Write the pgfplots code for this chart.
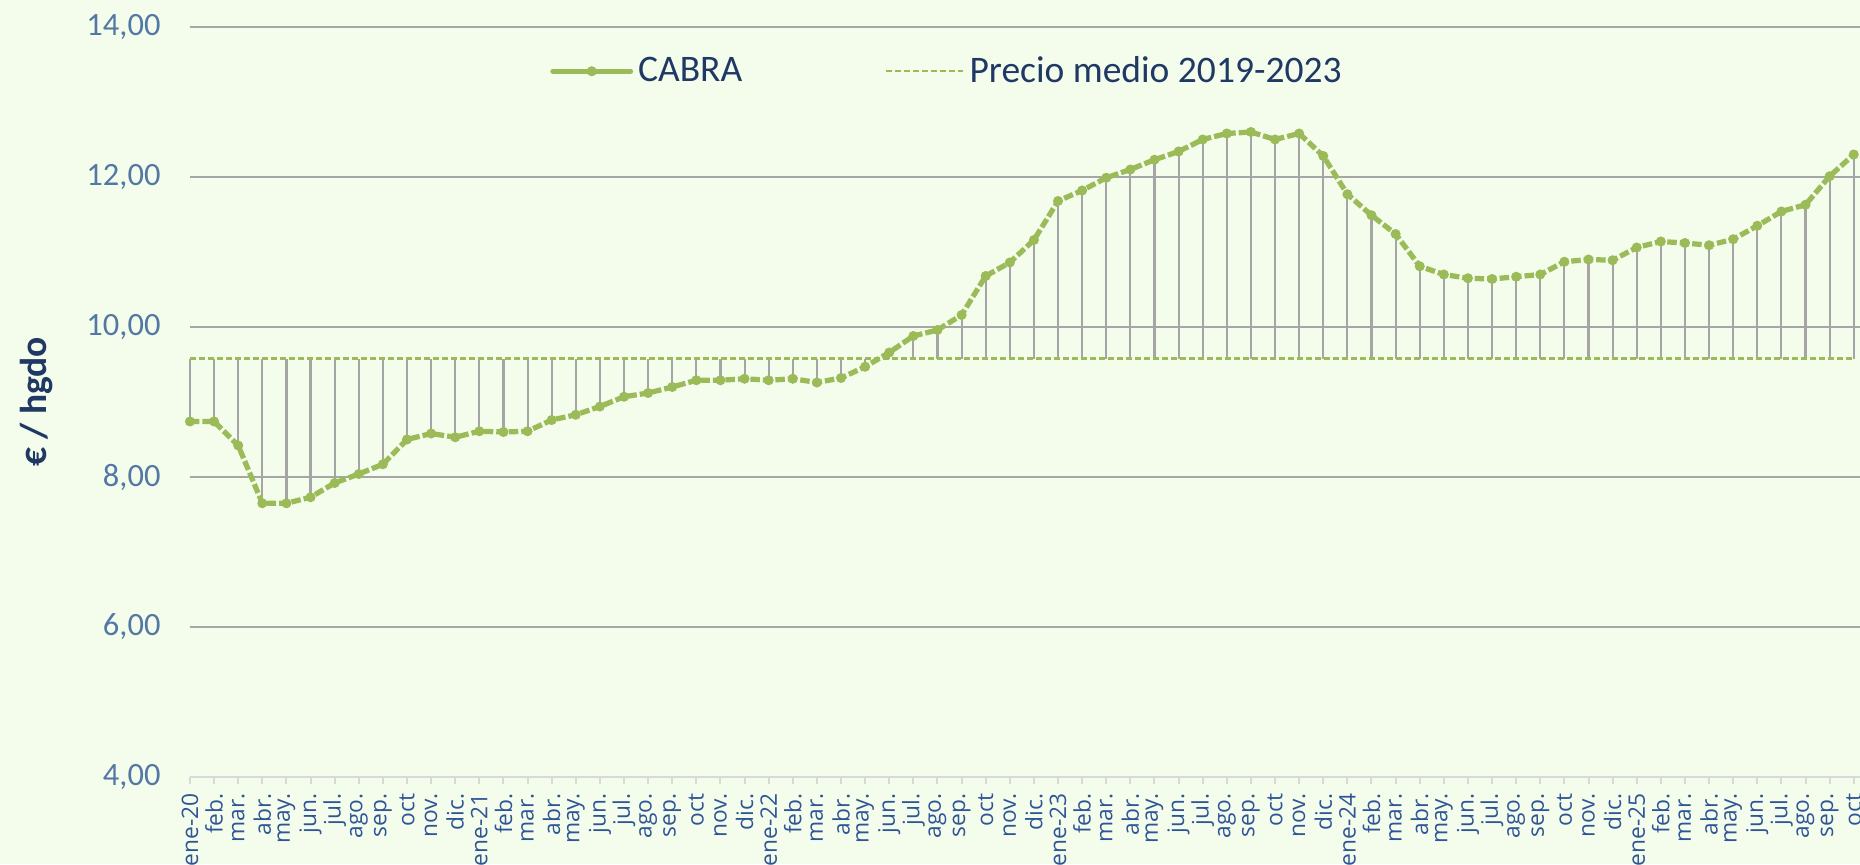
\documentclass[border=0pt]{standalone}
\usepackage{pgfplots}
\pgfplotsset{compat=1.18}
\usepackage{pgfplotstable}
\usepackage{fontspec}
\setmainfont{Carlito}
\newfontfamily\xfont{Open Sans}
\definecolor{bg}{RGB}{244,253,236}
\definecolor{cgreen}{RGB}{155,187,89}
\definecolor{gridgray}{RGB}{166,166,166}
\definecolor{dropgray}{RGB}{165,165,165}
\definecolor{axgray}{RGB}{217,217,217}
\definecolor{xlab}{RGB}{47,85,151}
\definecolor{ylab}{RGB}{84,120,165}
\definecolor{navy}{RGB}{31,56,100}
\pgfplotsset{
  cabra legend/.style={legend image code/.code={\draw[##1, solid, line cap=round, mark repeat=2, mark phase=2] plot coordinates {(0pt,0pt) (15.5pt,0pt) (31pt,0pt)};}},
  mean legend/.style={legend image code/.code={\draw[##1] (0pt,0pt) -- (31pt,0pt);}}
}
\pgfplotstableread{
x y
0 8.74
1 8.74
2 8.42
3 7.65
4 7.65
5 7.73
6 7.92
7 8.04
8 8.17
9 8.50
10 8.58
11 8.53
12 8.61
13 8.60
14 8.61
15 8.76
16 8.83
17 8.94
18 9.07
19 9.12
20 9.20
21 9.29
22 9.29
23 9.31
24 9.29
25 9.31
26 9.26
27 9.32
28 9.47
29 9.66
30 9.88
31 9.96
32 10.16
33 10.68
34 10.86
35 11.16
36 11.68
37 11.82
38 11.99
39 12.10
40 12.23
41 12.34
42 12.50
43 12.58
44 12.60
45 12.50
46 12.58
47 12.28
48 11.77
49 11.49
50 11.24
51 10.81
52 10.70
53 10.65
54 10.64
55 10.67
56 10.70
57 10.87
58 10.90
59 10.89
60 11.06
61 11.14
62 11.12
63 11.09
64 11.17
65 11.35
66 11.54
67 11.63
68 12.01
69 12.30
}\cabra
\begin{document}
\begin{tikzpicture}
\path[use as bounding box, fill=bg] (-76pt,-34.8pt) rectangle (668pt,310.8pt);
\begin{axis}[
  at={(0,0)}, anchor=south west,
  scale only axis, width=668pt, height=300pt,
  xmin=0, xmax=69.26, ymin=4, ymax=14,
  axis x line*=bottom, axis y line*=left,
  x axis line style={draw=axgray, line width=0.8pt, -},
  y axis line style={draw=none},
  ytick={6,8,...,14},
  extra y ticks={4},
  extra y tick style={grid=none},
  ymajorgrids,
  major grid style={draw=gridgray, line width=0.95pt},
  ytick style={draw=none},
  xtick={0,...,69},
  xtick style={draw=axgray, line width=0.8pt},
  tick align=outside,
  major tick length=2.8pt,
  xticklabels={ene-20,feb.,mar.,abr.,may.,jun.,jul.,ago.,sep.,oct,nov.,dic.,
    ene-21,feb.,mar.,abr.,may.,jun.,jul.,ago.,sep.,oct,nov.,dic.,
    ene-22,feb.,mar.,abr.,may.,jun.,jul.,ago.,sep.,oct,nov.,dic.,
    ene-23,feb.,mar.,abr.,may.,jun.,jul.,ago.,sep.,oct,nov.,dic.,
    ene-24,feb.,mar.,abr.,may.,jun.,jul.,ago.,sep.,oct,nov.,dic.,
    ene-25,feb.,mar.,abr.,may.,jun.,jul.,ago.,sep.,oct},
  xticklabel style={font=\xfont\fontsize{9.1}{9.5}\selectfont, text=xlab, rotate=90, anchor=east, inner sep=0pt},
  xticklabel shift=3.6pt,
  yticklabel style={font=\fontsize{13}{14}\selectfont, text=ylab, anchor=east, inner sep=0pt},
  yticklabel shift=8.8pt,
  /pgf/number format/fixed, /pgf/number format/fixed zerofill,
  /pgf/number format/precision=2, /pgf/number format/use comma,
  /pgf/number format/assume math mode=true,
  ylabel={€ / hgdo},
  every axis y label/.style={at={(axis description cs:-0.0922,0.5)}, rotate=90, anchor=center,
    font=\bfseries\fontsize{15}{16}\selectfont, text=navy},
  legend columns=2,
  legend style={draw=none, fill=none, at={(axis description cs:0.211,0.941)}, anchor=west,
    font=\fontsize{15}{16}\selectfont, text=navy,
    /tikz/every even column/.append style={column sep=55pt}},
  clip=false,
]
\addplot[mark=none, draw=none, forget plot,
  error bars/.cd, y dir=both, y explicit,
  error bar style={draw=dropgray, line width=0.85pt, solid}, error mark=none]
  table[x=x, y=y, y error plus expr={max(0,9.58-\thisrow{y})}, y error minus expr={max(0,\thisrow{y}-9.58)}] {\cabra};
\addplot[cgreen, line width=2.1pt, dash pattern=on 3.8pt off 1.2pt, mark=*,
  mark size=1.8pt, mark options={solid, fill=cgreen, draw=cgreen, line width=0.4pt}, cabra legend]
  table[x=x, y=y] {\cabra};
\addlegendentry{CABRA}
\addplot[cgreen, line width=0.9pt, dash pattern=on 2.4pt off 1.2pt, mean legend]
  coordinates {(0,9.58) (69,9.58)};
\addlegendentry{Precio medio 2019-2023}
\end{axis}
\end{tikzpicture}
\end{document}
